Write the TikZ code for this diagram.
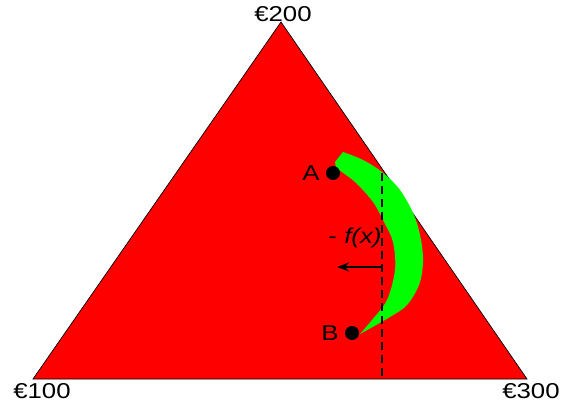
\documentclass[tikz,border=0pt]{standalone}
\usepackage{fontspec}
\setmainfont{Liberation Sans}
\usetikzlibrary{arrows.meta, positioning}
\definecolor{simplexred}{RGB}{255,0,0}
\definecolor{pathgreen}{RGB}{0,255,0}
\newcommand{\widetext}[1]{\scalebox{1.2}[1]{#1}}
\tikzset{
  price label/.style={
    font=\fontsize{21.5}{21.5}\selectfont, inner sep=0pt
  },
  point dot/.style={
    circle, fill=black, minimum size=14pt, inner sep=0pt
  },
  point label/.style={
    font=\fontsize{21.5}{21.5}\selectfont, inner sep=0pt
  },
  grad arrow/.style={
    -{Stealth[length=12pt,width=9pt]}, line width=1.8pt
  }
}

\begin{document}
\begin{tikzpicture}[x=1pt, y=-1pt]
  \useasboundingbox (0,0) rectangle (562,406);

  % simplex
  \coordinate (v100) at (33,379);
  \coordinate (v200) at (281,22);
  \coordinate (v300) at (527,379);
  \filldraw[fill=simplexred, draw=black, line width=0.7pt] (v100) -- (v200) -- (v300) -- cycle;

  % region swept by the path
  \fill[pathgreen] (343,152) -- plot[smooth, tension=0.55] coordinates {
      (343,152) (363,160) (382,172) (400,190) (414,215) (421,240)
      (423,263) (419,285) (407,305) (390,317) (360,334)}
    -- plot[smooth, tension=0.55] coordinates {
      (360,334) (372,320) (387,300) (395,270) (393,242) (384,222)
      (373,202) (355,182) (336,168)}
    -- (335,162) -- cycle;

  \node (ptA) [point dot] at (333,173) {};
  \node (ptB) [point dot] at (352,333) {};
  \node (labA) [point label, left=6pt of ptA] {\widetext{A}};
  \node (labB) [point label, left=6pt of ptB] {\widetext{B}};

  % vertical cut and gradient
  \coordinate (cut top) at (382,173);
  \coordinate (cut bot) at (382,379);
  \draw[line width=1.8pt, dash pattern=on 8pt off 5pt] (cut top) -- (cut bot);
  \coordinate (fx tail) at (382,267);
  \coordinate (fx head) at (337,267);
  \draw[grad arrow] (fx tail) -- (fx head);
  \node (fx) [point label] at (355,238) {\widetext{- \textit{f(x)}}};

  \node (p200) [price label] at (283,14) {\widetext{€200}};
  \node (p100) [price label] at (42,391) {\widetext{€100}};
  \node (p300) [price label] at (531,391) {\widetext{€300}};
\end{tikzpicture}
\end{document}
